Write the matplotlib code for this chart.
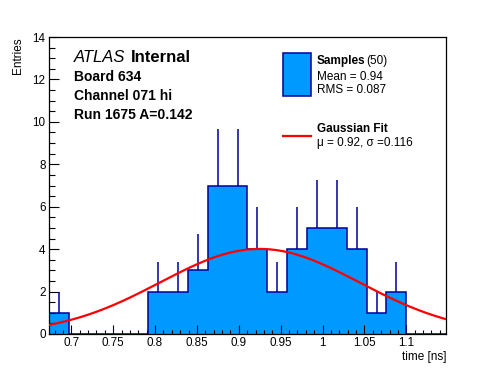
import numpy as np
import matplotlib
matplotlib.use("Agg")
import matplotlib.pyplot as plt
from matplotlib.ticker import MultipleLocator, FuncFormatter
from matplotlib.patches import Rectangle
from matplotlib.lines import Line2D

# ---- data ----
x_min = 0.6734
x_max = 1.1474
n_bins = 20
counts = [1, 0, 0, 0, 0, 2, 2, 3, 7, 7, 4, 2, 4, 5, 5, 4, 1, 2, 0, 0]
fit_amp = 4.01
fit_mean = 0.925
fit_sigma = 0.119
n_samples = 50
mean_txt = "0.94"
rms_txt = "0.087"
fit_mu_txt = "0.92"
fit_sigma_txt = "0.116"
board_lines = ["Board 634", "Channel 071 hi", "Run 1675 A=0.142"]

# ---- style ----
plt.rcParams['font.family'] = ['Liberation Sans', 'DejaVu Sans']
FILL = '#0099ff'
EDGE = '#000099'
W, H = 496, 372

fig = plt.figure(figsize=(W / 100, H / 100), dpi=100)
L, R, T, B = 49, 446, 37, 334
ax = fig.add_axes([L / W, 1 - B / H, (R - L) / W, (B - T) / H])

edges = np.linspace(x_min, x_max, n_bins + 1)
cnt = np.array(counts, dtype=float)
centers = 0.5 * (edges[:-1] + edges[1:])

ax.stairs(cnt, edges, fill=True, color=FILL, zorder=1)
ax.stairs(cnt, edges, fill=False, color=EDGE, lw=1.1, zorder=2)
mask = cnt > 0
ax.vlines(centers[mask], cnt[mask], cnt[mask] + np.sqrt(cnt[mask]),
          color=EDGE, lw=1.1, zorder=2)

xs = np.linspace(x_min, x_max, 400)
ys = fit_amp * np.exp(-0.5 * ((xs - fit_mean) / fit_sigma) ** 2)
ax.plot(xs, ys, color='#ff0000', lw=1.6, zorder=3)

ax.set_xlim(x_min, x_max)
ax.set_ylim(0, 14)
ax.xaxis.set_major_locator(MultipleLocator(0.05))
ax.xaxis.set_minor_locator(MultipleLocator(0.01))
ax.yaxis.set_major_locator(MultipleLocator(2))
ax.yaxis.set_minor_locator(MultipleLocator(0.5))
ax.xaxis.set_major_formatter(FuncFormatter(lambda v, p: ('%g' % round(v, 3))))
ax.tick_params(axis='x', which='major', direction='in', length=6.5, width=0.8,
               labelsize=8.4, pad=2.5)
ax.tick_params(axis='x', which='minor', direction='in', length=3.2, width=0.8)
ax.tick_params(axis='y', which='major', direction='in', length=7.2, width=0.8,
               labelsize=8.4, pad=2.5)
ax.tick_params(axis='y', which='minor', direction='in', length=4, width=0.8)
for s in ax.spines.values():
    s.set_linewidth(0.9)

def fx(px):
    return px / W

def fy(py):
    return 1 - py / H

fig.text(fx(18), fy(37), "Entries", rotation=90, ha='center', va='top', fontsize=8.5)
fig.text(fx(446), fy(357), "time [ns]", ha='right', va='center', fontsize=8.5)

fig.text(fx(74), fy(57), "ATLAS", style='italic', fontsize=12, va='center', ha='left')
fig.text(fx(131), fy(57), "Internal", weight='bold', fontsize=12, va='center', ha='left')
for i, line in enumerate(board_lines):
    fig.text(fx(74), fy(77 + 19 * i), line, weight='bold', fontsize=10,
             va='center', ha='left')

# legend
fig.patches.append(Rectangle((fx(283), fy(96)), (311 - 283) / W, (96 - 53) / H,
                             transform=fig.transFigure, facecolor=FILL,
                             edgecolor=EDGE, lw=1.1))
fig.text(fx(317), fy(61), "Samples", weight='bold', fontsize=8.5, va='center', ha='left')
fig.text(fx(366), fy(61), "(%d)" % n_samples, fontsize=8.5, va='center', ha='left')
fig.text(fx(317), fy(77), "Mean = " + mean_txt, fontsize=8.5, va='center', ha='left')
fig.text(fx(317), fy(90), "RMS = " + rms_txt, fontsize=8.5, va='center', ha='left')
fig.lines.append(Line2D([fx(283), fx(311)], [fy(136), fy(136)],
                        transform=fig.transFigure, color='#ff0000', lw=1.6))
fig.text(fx(317), fy(129), "Gaussian Fit", weight='bold', fontsize=8.5, va='center', ha='left')
fig.text(fx(317), fy(143), "\u03bc = %s, \u03c3 =%s" % (fit_mu_txt, fit_sigma_txt),
         fontsize=8.5, va='center', ha='left')

fig.savefig("out.png", dpi=100)
